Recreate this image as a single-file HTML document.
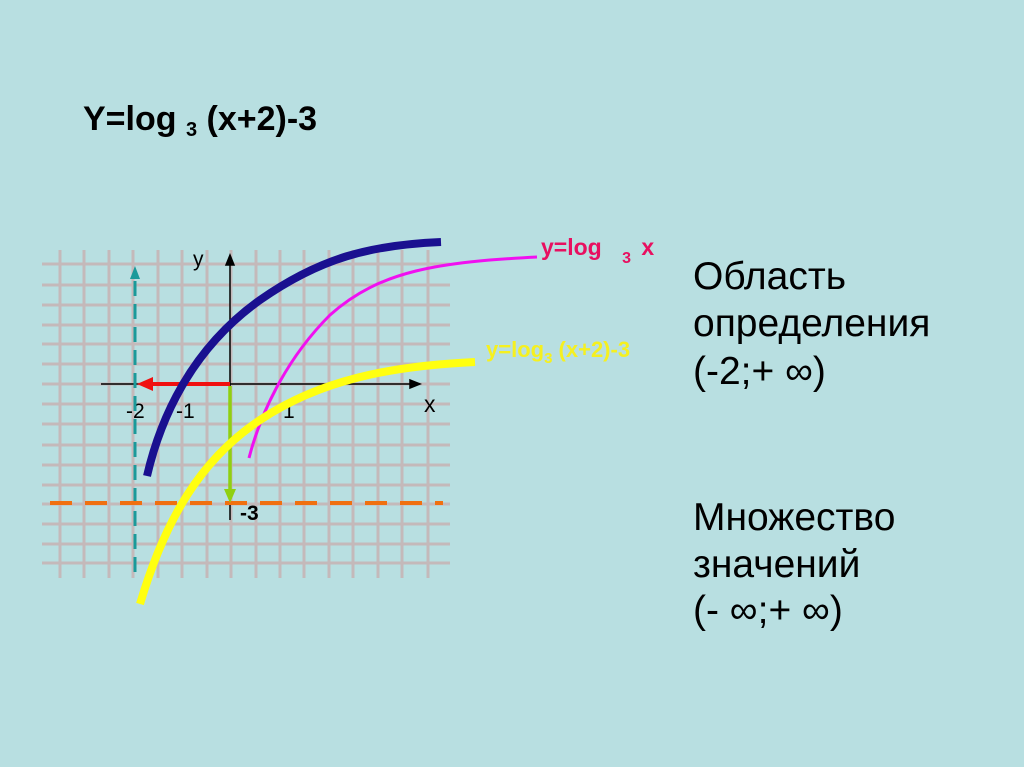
<!DOCTYPE html>
<html><head><meta charset="utf-8"><style>
html,body{margin:0;padding:0;background:#b8dfe1;}
svg{display:block}
text{font-family:"Liberation Sans",sans-serif}
</style></head><body>
<svg width="1024" height="767" viewBox="0 0 1024 767" xmlns="http://www.w3.org/2000/svg">
<rect width="1024" height="767" fill="#b8dfe1"/>
<text x="83" y="130" font-size="34" font-weight="bold" fill="#000">Y=log <tspan font-size="20" dy="6">3</tspan><tspan dy="-6"> (x+2)-3</tspan></text>
<g stroke="#c4b9ba" stroke-width="3">
<path d="M60 250V578M84 250V578M109 250V578M133 250V578M158 250V578M182 250V578M207 250V578M231 250V578M256 250V578M280 250V578M304 250V578M329 250V578M353 250V578M378 250V578M402 250V578M428 250V578"/>
<path d="M42 264H450M42 285H450M42 305H450M42 325H450M42 344H450M42 364H450M42 384H450M42 404H450M42 424H450M42 445H450M42 465H450M42 485H450M42 504H450M42 524H450M42 544H450M42 563H450"/>
</g>
<g stroke="#000" stroke-width="1.5" fill="#000">
<path d="M101 384H412"/><path d="M420 384l-10-4v8z"/>
<path d="M230 520V262"/><path d="M230 255l-4 10h8z"/>
</g>
<text x="193" y="266" font-size="21">y</text>
<text x="424" y="412" font-size="23">x</text>
<text x="126" y="418" font-size="21">-2</text>
<text x="176" y="418" font-size="21">-1</text>
<text x="283" y="418" font-size="21">1</text>
<text x="240" y="520" font-size="21" font-weight="bold">-3</text>
<path d="M135 572V276" stroke="#1a9a9a" stroke-width="3" stroke-dasharray="15 8"/>
<path d="M135 266l-5 13h10z" fill="#1a9a9a"/>
<path d="M50 503H443" stroke="#f07010" stroke-width="4" stroke-dasharray="22 13"/>
<path d="M230 384H150" stroke="#f01010" stroke-width="4"/>
<path d="M137 384l16-7v14z" fill="#f01010"/>
<path d="M230 386V490" stroke="#90d010" stroke-width="3.5"/>
<path d="M230 503l-6-14h12z" fill="#90d010"/>
<path d="M147 476C160 420 190 350 260 300C320 258 370 245 441 242" stroke="#1a1090" stroke-width="8" fill="none"/>
<path d="M249 458C260 415 285 360 330 315C380 270 440 262 537 257" stroke="#f010f0" stroke-width="3" fill="none"/>
<path d="M140 604C165 520 200 460 260 420C320 380 390 366 475 362" stroke="#ffff10" stroke-width="8" fill="none"/>
<text x="541" y="255" font-size="23" font-weight="bold" fill="#e81060">y=log <tspan font-size="16" dy="8" dx="14">3</tspan><tspan dy="-8" dx="4"> x</tspan></text>
<text x="486" y="357" font-size="22" font-weight="bold" fill="#f5f020">y=log<tspan font-size="15" dy="6">3</tspan><tspan dy="-6"> (x+2)-3</tspan></text>
<g font-size="39" fill="#000">
<text x="693" y="289">Область</text>
<text x="693" y="336">определения</text>
<text x="693" y="384">(-2;+ ∞)</text>
<text x="693" y="530">Множество</text>
<text x="693" y="577">значений</text>
<text x="693" y="623">(- ∞;+ ∞)</text>
</g>
</svg>
</body></html>
